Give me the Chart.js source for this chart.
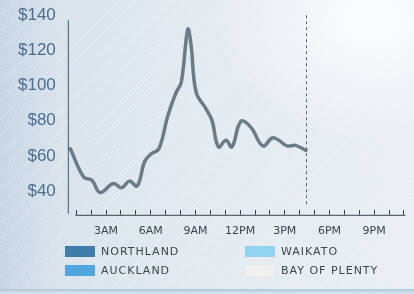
<!DOCTYPE html>
<html>
<head>
<meta charset="utf-8">
<script src="https://cdn.jsdelivr.net/npm/chart.js@4"></script>
<style>
  html, body { margin: 0; padding: 0; }
  body {
    width: 414px; height: 294px; overflow: hidden; position: relative;
    background:
      radial-gradient(ellipse 160px 120px at 370px 20px, rgba(255,255,255,0.85), rgba(255,255,255,0) 100%),
      linear-gradient(90deg, #c4d4e3 0px, #d8e2eb 60px, #e2e9ef 200px, #e8eef3 414px);
  }
  .hatch {
    position: absolute; left: 0; top: 0; width: 414px; height: 294px;
    background: repeating-linear-gradient(135deg, rgba(255,255,255,0.22) 0 1px, rgba(255,255,255,0) 1px 3px);
  }
  .bottomline {
    position: absolute; left: 0; top: 289px; width: 414px; height: 5px;
    background: linear-gradient(180deg, #aec6dc, #dce6ef);
  }
  #wrap { position: absolute; left: 0; top: -8px; width: 414px; height: 302px; }
  .leg { position: absolute; font-family: "DejaVu Sans", sans-serif; font-size: 11px;
         letter-spacing: 1px; color: #3d4650; line-height: 12px; }
  .leg span.box { position: absolute; left: 0; top: 0; width: 30px; height: 11px; }
  .leg span.txt { position: absolute; left: 36px; top: 0; white-space: nowrap; }
</style>
</head>
<body>
<div class="hatch"></div>
<div class="bottomline"></div>
<div id="wrap"><canvas id="chart"></canvas></div>
<div id="legend"></div>
<script>
// chart data
const hours = [0.6, 1.49, 2.05, 2.6, 3.49, 4.05, 4.55, 5.09, 5.6, 6.05, 6.55, 7.15, 7.71, 8.05, 8.49,
               8.71, 9.05, 9.71, 10.11, 10.55, 11.05, 11.45, 12.05, 12.71, 13.53, 14.15, 14.6, 15.15, 15.71, 16.42];
const prices = [64.1, 48.1, 46.2, 39.2, 44.3, 41.9, 45.7, 43.0, 57.0, 61.3, 64.1, 83.0, 96.2, 101.9, 132.0,
                122.8, 96.2, 86.8, 80.2, 65.1, 68.9, 65.1, 79.6, 76.4, 65.7, 70.2, 68.9, 65.7, 66.0, 63.2];
const yTicks = [40, 60, 80, 100, 120, 140];
const hourTicks = [1, 2, 3, 4, 5, 6, 7, 8, 9, 10, 11, 12, 13, 14, 15, 16, 17, 18, 19, 20, 21, 22, 23];
const labelHours = [3, 6, 9, 12, 15, 18, 21];
const timeLabels = ['3AM', '6AM', '9AM', '12PM', '3PM', '6PM', '9PM'];
const regions = ['NORTHLAND', 'AUCKLAND', 'WAIKATO', 'BAY OF PLENTY'];
const regionColors = ['#3f7eab', '#4fa7dd', '#92d3f2', '#f1f0ee'];

// legend (two columns)
const legend = document.getElementById('legend');
regions.forEach((name, i) => {
    const d = document.createElement('div');
    d.className = 'leg';
    d.style.left = (i < 2 ? 65 : 245) + 'px';
    d.style.top = (i % 2 === 0 ? 246 : 265) + 'px';
    d.innerHTML = `<span class="box" style="background:${regionColors[i]}"></span><span class="txt">${name}</span>`;
    legend.appendChild(d);
});

// axis lines + "now" marker
const axisLines = {
    id: 'axisLines',
    afterDatasetsDraw(chart) {
        const { ctx, chartArea, scales } = chart;
        const x = scales.x;
        ctx.save();
        ctx.strokeStyle = '#3b5a78';
        ctx.lineWidth = 1;
        ctx.beginPath();
        ctx.moveTo(chartArea.left - 0.5, chartArea.top + 5);
        ctx.lineTo(chartArea.left - 0.5, chartArea.bottom + 4);
        ctx.stroke();
        ctx.strokeStyle = '#3a4450';
        ctx.beginPath();
        ctx.moveTo(x.getPixelForValue(1) - 1, chartArea.bottom + 5.5);
        ctx.lineTo(chartArea.right - 3, chartArea.bottom + 5.5);
        ctx.stroke();
        const nowX = Math.round(x.getPixelForValue(hours[hours.length - 1])) + 0.5;
        ctx.strokeStyle = '#4d6580';
        ctx.setLineDash([3, 3]);
        ctx.beginPath();
        ctx.moveTo(nowX, chartArea.top);
        ctx.lineTo(nowX, chartArea.bottom - 3);
        ctx.stroke();
        ctx.restore();
    }
};

const ctx = document.getElementById('chart').getContext('2d');
new Chart(ctx, {
    type: 'line',
    data: {
        datasets: [{
            data: hours.map((h, i) => ({ x: h, y: prices[i] })),
            borderColor: '#6b7c89',
            borderWidth: 3.5,
            pointRadius: 0,
            tension: 0.4,
            fill: false,
            borderCapStyle: 'round',
            borderJoinStyle: 'round'
        }]
    },
    options: {
        responsive: true,
        maintainAspectRatio: false,
        animation: false,
        layout: { padding: { left: 5, right: 4, top: 5, bottom: 46 } },
        plugins: { legend: { display: false }, tooltip: { enabled: false } },
        scales: {
            x: {
                type: 'linear',
                min: 0.5,
                max: 23.3,
                afterBuildTicks: (s) => { s.ticks = hourTicks.map(v => ({ value: v })); },
                border: { display: false },
                grid: { drawOnChartArea: false, drawTicks: true, tickLength: 5, tickColor: '#3a4450', lineWidth: 1 },
                ticks: {
                    autoSkip: false,
                    maxRotation: 0,
                    padding: 10,
                    color: '#3a4450',
                    font: { family: 'DejaVu Sans', size: 11 },
                    callback: (v) => {
                        const i = labelHours.indexOf(v);
                        return i >= 0 ? timeLabels[i] : '';
                    }
                }
            },
            y: {
                min: 29.4,
                max: 140,
                afterBuildTicks: (s) => { s.ticks = yTicks.map(v => ({ value: v })); },
                border: { display: false },
                grid: { display: false, drawTicks: false },
                ticks: {
                    padding: 13,
                    color: '#4c6d90',
                    font: { family: 'Liberation Sans', size: 17 },
                    callback: (v) => '$' + v
                }
            }
        }
    },
    plugins: [axisLines]
});
</script>
</body>
</html>
